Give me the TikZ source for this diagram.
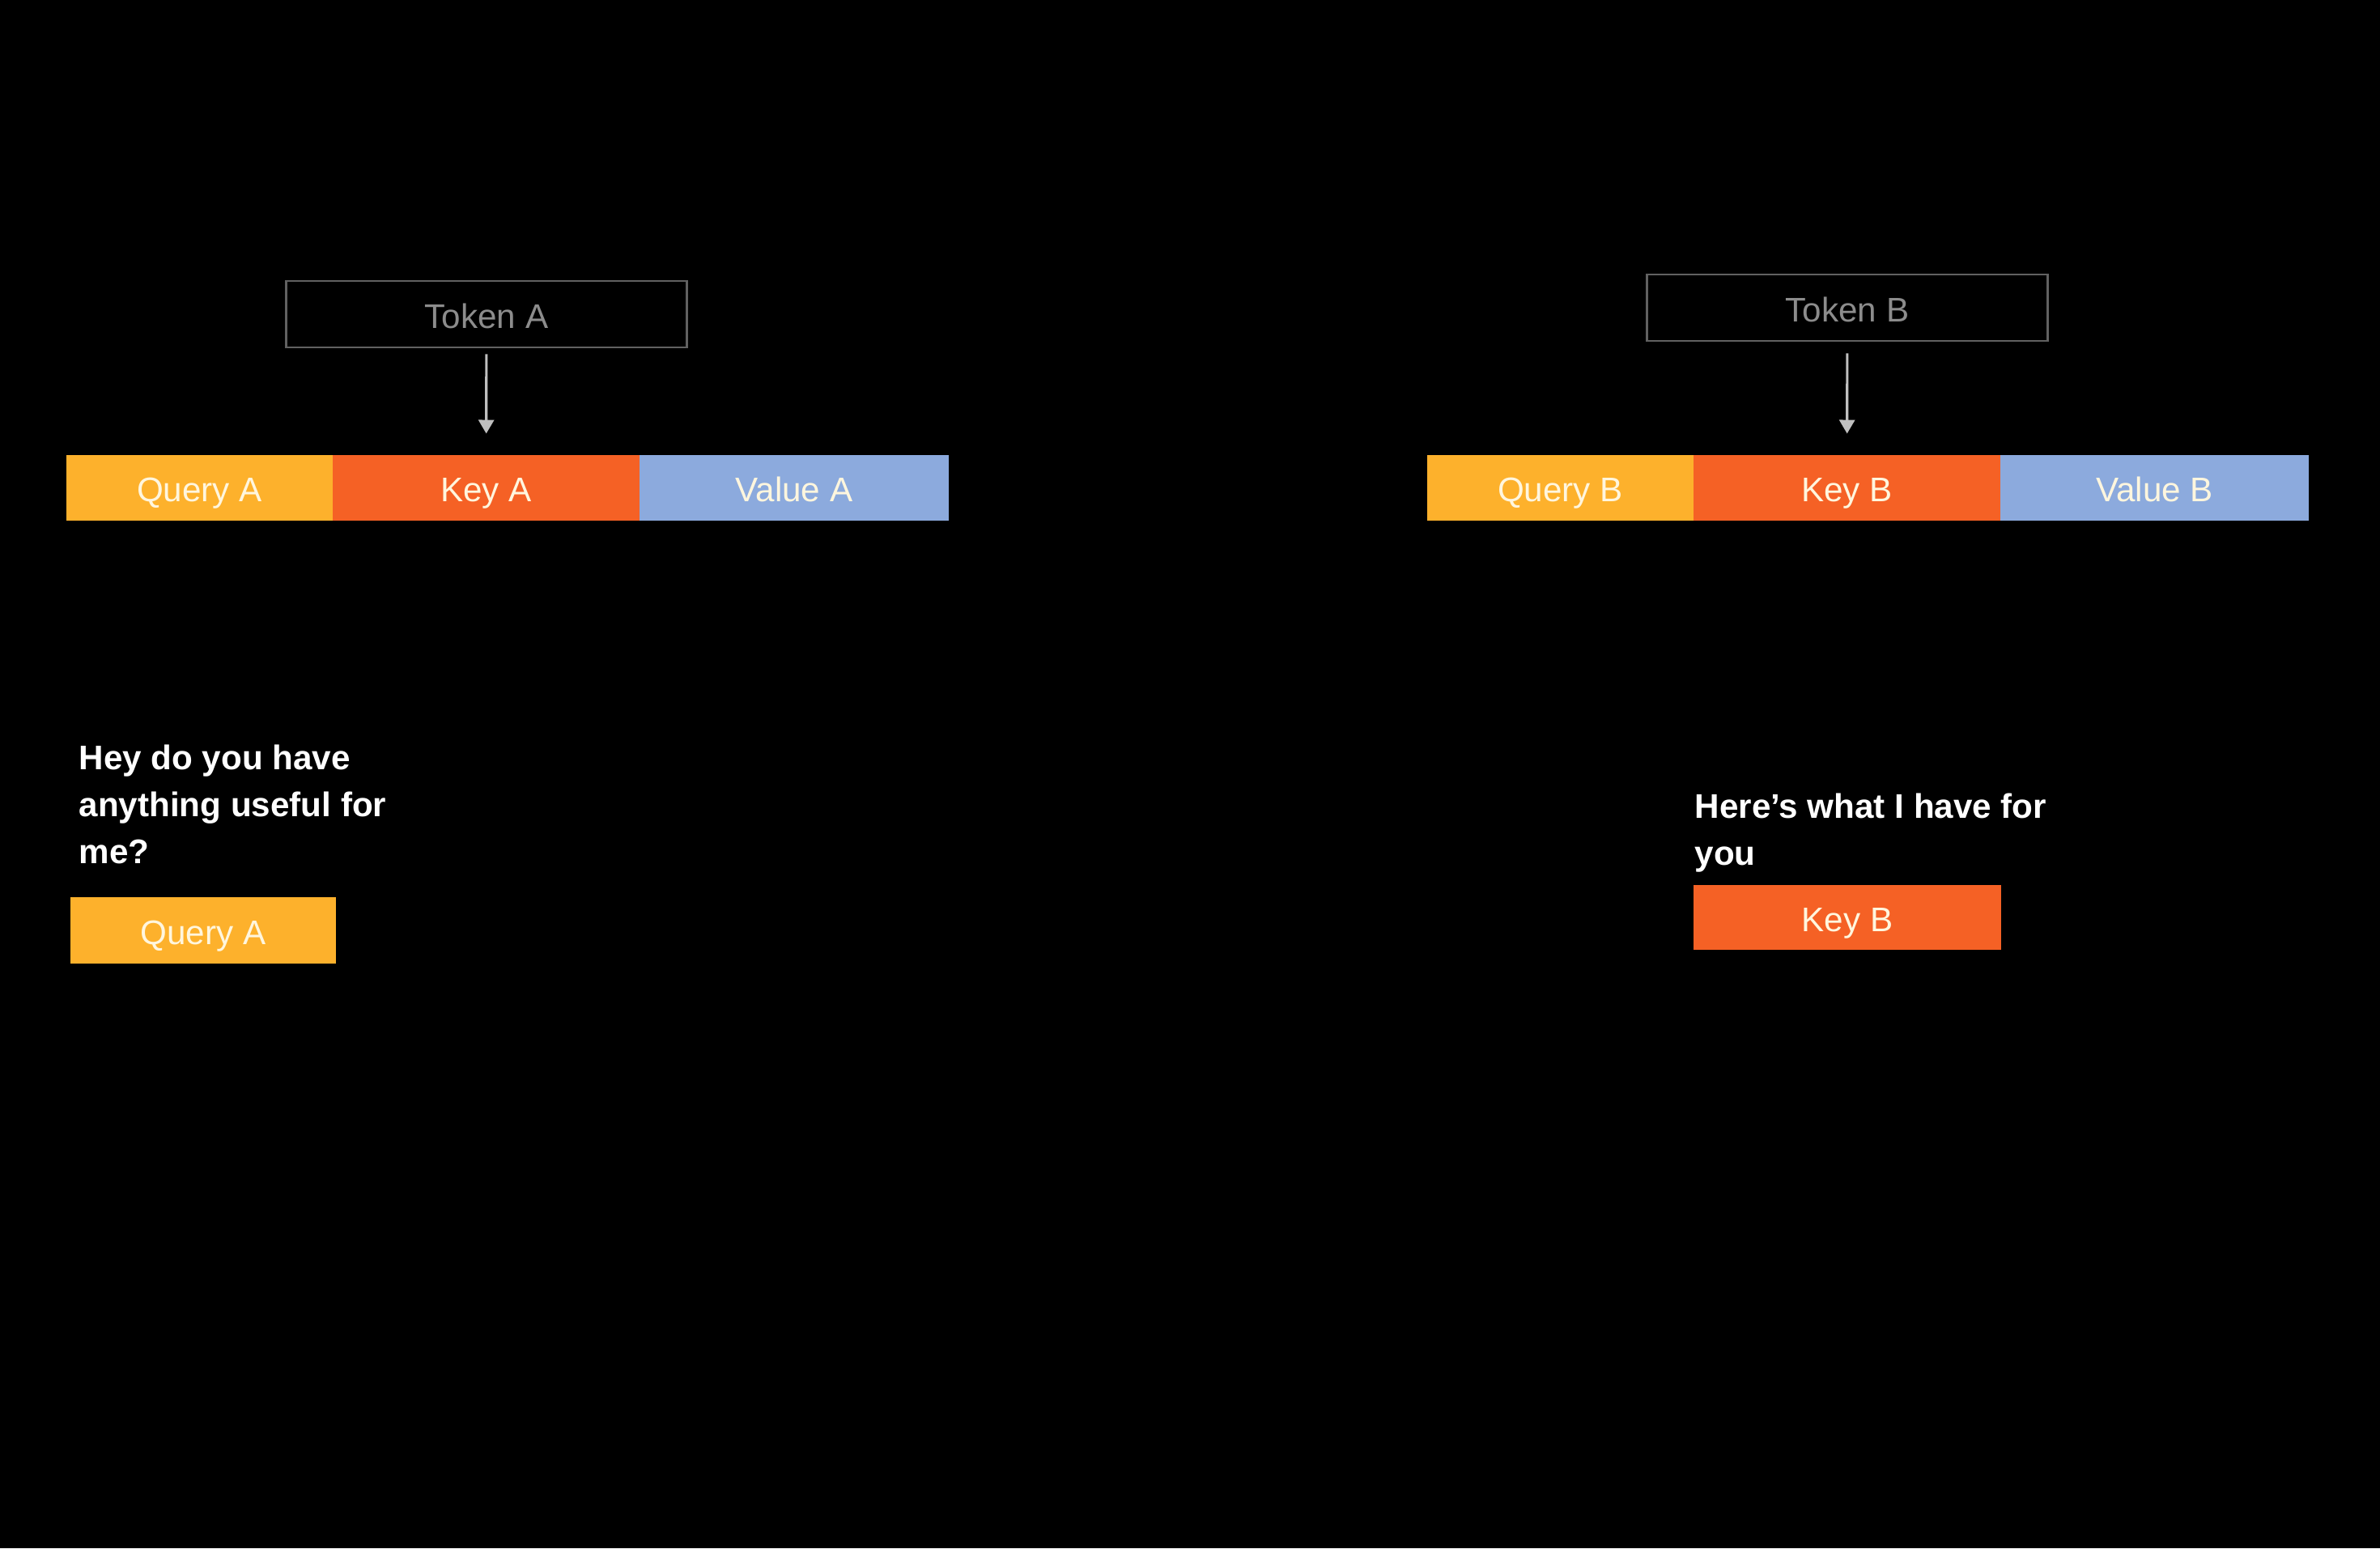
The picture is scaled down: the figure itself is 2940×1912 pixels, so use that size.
\documentclass[tikz,border=0pt]{standalone}
\usepackage{fontspec}
\setmainfont{Liberation Sans}
\usetikzlibrary{arrows.meta}
\definecolor{qcol}{RGB}{253,177,44}
\definecolor{kcol}{RGB}{245,97,37}
\definecolor{vcol}{RGB}{140,170,221}
\definecolor{labcol}{RGB}{255,246,222}
\begin{document}
\begin{tikzpicture}[x=0.1mm, y=-0.1mm,
  every node/.style={font=\fontsize{12}{16.5}\selectfont},
  tok/.style={draw=black!62, line width=0.8pt, minimum width=49.5mm, minimum height=8.2mm, text=black!45,
    inner sep=0pt, text height=11pt, text depth=0.8pt},
  seg/.style={fill=#1, text=labcol, minimum height=8.1mm, inner sep=0pt, outer sep=0pt,
    text height=11pt, text depth=0.8pt},
  note/.style={text=white, font=\bfseries\fontsize{12}{16.5}\selectfont, align=left, anchor=north west, inner sep=0pt},
  arr/.style={draw=black!25, line width=0.9pt, -{Triangle[length=1.7mm,width=1.9mm]}}]
  \fill[black] (0,0) rectangle (2940,1912);
  % tokens
  \node[tok] (TA) at (601,388) {Token A};
  \node[tok] (TB) at (2282,380) {Token B};
  % query / key / value bars
  \foreach \n/\a/\b/\c/\t in {QA/82/411/qcol/Query A, KA/411/790/kcol/Key A, VA/790/1172/vcol/Value A,
      QB/1763/2092/qcol/Query B, KB/2092/2471/kcol/Key B, VB/2471/2852/vcol/Value B}
    \node[seg=\c, minimum width={(\b-\a)*0.1mm}] (\n) at ({(\a+\b)/2},602) {\t};
  \draw[arr, shorten <=0.7mm, shorten >=2.6mm] (TA) -- (KA);
  \draw[arr, shorten <=1.4mm, shorten >=2.6mm] (TB) -- (KB);
  % what each token says
  \node[note] (askA) at (97,919) {Hey do you have\\anything useful for\\me?};
  \node[seg=qcol, minimum width=32.8mm, minimum height=8.2mm] (QA2) at (251,1149) {Query A};
  \node[note] (giveB) at (2093,979) {Here’s what I have for\\you};
  \node[seg=kcol, minimum width=38mm, minimum height=8mm] (KB2) at (2282,1133) {Key B};
\end{tikzpicture}
\end{document}
